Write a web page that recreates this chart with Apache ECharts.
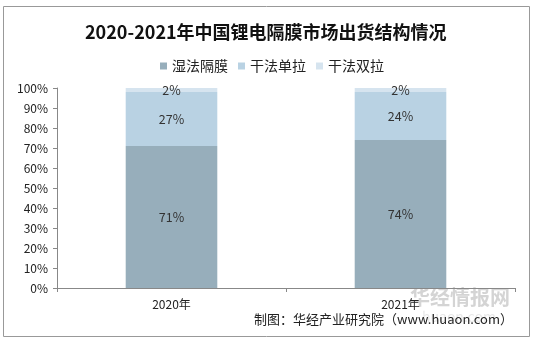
<!DOCTYPE html>
<html><head><meta charset="utf-8">
<script src="https://cdn.jsdelivr.net/npm/echarts@6/dist/echarts.min.js"></script>
<style>html,body{margin:0;padding:0;background:#fff}#c{width:535px;height:342px}</style>
</head><body><div id="c"></div>
<script>
const categories = ['2020年', '2021年'];
const seriesNames = ['湿法隔膜', '干法单拉', '干法双拉'];
const wetValues = [71, 74];
const drySingleValues = [27, 24];
const dryDoubleValues = [2, 2];
const yTicks = [0, 10, 20, 30, 40, 50, 60, 70, 80, 90, 100];

const colors = ['#97aebb', '#b9d2e3', '#d6e4ef'];
const font = '"Noto Sans CJK SC", "Liberation Sans", sans-serif';
const chart = echarts.init(document.getElementById('c'));
const lbl = {show: true, position: 'inside', color: '#333', fontSize: 12.5, fontFamily: font, formatter: p => p.value + '%'};
const dataSets = [wetValues, drySingleValues, dryDoubleValues];
chart.setOption({
  animation: false,
  textStyle: {fontFamily: font},
  title: {text: '2020-2021年中国锂电隔膜市场出货结构情况', left: 80, top: 18,
    textStyle: {fontSize: 18, fontWeight: 'bold', color: '#111', fontFamily: font}},
  legend: {data: seriesNames, top: 54, left: 155, itemWidth: 7, itemHeight: 7, itemGap: 10,
    icon: 'rect', textStyle: {fontSize: 14, color: '#222', fontFamily: font}},
  grid: {left: 57, right: 20, top: 88, bottom: 54},
  xAxis: {type: 'category', data: categories,
    axisLine: {lineStyle: {color: '#888'}},
    axisTick: {show: true, length: 4, lineStyle: {color: '#888'}},
    axisLabel: {color: '#222', fontSize: 12, margin: 10}},
  yAxis: {type: 'value', min: yTicks[0], max: yTicks[yTicks.length - 1], interval: 10,
    axisLine: {show: true, lineStyle: {color: '#888'}},
    axisTick: {show: true, length: 4, lineStyle: {color: '#888'}},
    splitLine: {show: false},
    axisLabel: {color: '#222', fontSize: 12, margin: 9, formatter: '{value}%'}},
  series: seriesNames.map((n, i) => ({
    name: n, type: 'bar', stack: 'total', barWidth: '40%', data: dataSets[i],
    itemStyle: {color: colors[i]}, label: lbl
  })),
  graphic: [
    {type: 'rect', shape: {x: 3.5, y: 6.5, width: 526, height: 330}, style: {fill: 'none', stroke: '#999', lineWidth: 1}, silent: true, z: -1},
    {type: 'text', left: 410, top: 287, style: {text: '华经情报网', fill: 'rgba(160,160,160,0.45)', font: 'bold 20px ' + font}, silent: true},
    {type: 'text', left: 422, top: 310, style: {text: 'huaon.com', fill: 'rgba(180,180,180,0.3)', font: '14px ' + font}, silent: true},
    {type: 'text', right: 22, top: 313, style: {text: '制图：华经产业研究院（www.huaon.com）', fill: '#222', font: '13px ' + font}, silent: true}
  ]
});
</script></body></html>
